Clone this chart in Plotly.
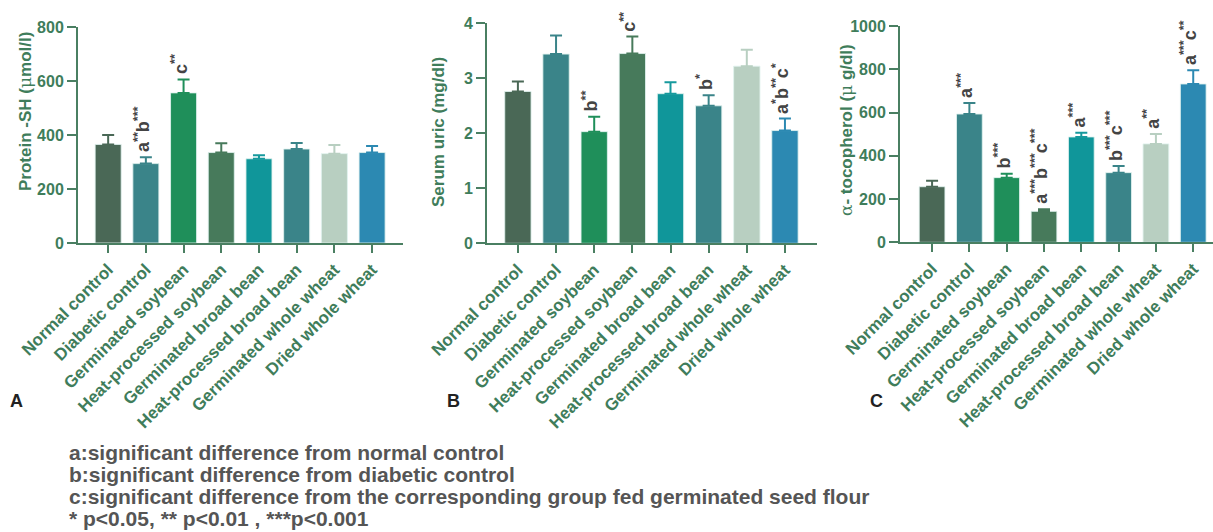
import plotly.graph_objects as go

# Groups shown on every panel
groups = ["Normal control", "Diabetic control", "Germinated soybean",
          "Heat-processed soybean", "Germinated broad bean",
          "Heat-processed broad bean", "Germinated whole wheat",
          "Dried whole wheat"]

# Panel A: protein -SH (umol/l), mean and SE
protein_sh = [365, 294, 556, 335, 312, 348, 331, 335]
protein_sh_err = [35, 24, 50, 34, 13, 22, 32, 24]
protein_sig = ["", "a<sup>**</sup>b<sup>***</sup>", "c<sup>**</sup>", "", "", "", "", ""]

# Panel B: serum uric acid (mg/dl)
uric = [2.76, 3.44, 2.03, 3.45, 2.72, 2.50, 3.22, 2.05]
uric_err = [0.18, 0.34, 0.27, 0.31, 0.21, 0.19, 0.30, 0.22]
uric_sig = ["", "", "b<sup>**</sup>", "c<sup>**</sup>", "", "b<sup>*</sup>", "",
            "a<sup>*</sup>b<sup>**</sup>c<sup>*</sup>"]

# Panel C: alpha-tocopherol (ug/dl)
toco = [257, 593, 299, 143, 487, 322, 455, 732]
toco_err = [27, 51, 18, 10, 20, 31, 46, 63]
toco_sig = ["", "a<sup>***</sup>", "b<sup>***</sup>",
            "a<sup>***</sup>b<sup>***</sup>c<sup>***</sup>", "a<sup>***</sup>",
            "b<sup>***</sup>c<sup>***</sup>", "a<sup>**</sup>", "a<sup>***</sup>c<sup>**</sup>"]

bar_colors = ["#4a6856", "#3a8489", "#1f8f5a", "#477a5b",
              "#10969a", "#3a8489", "#b8cfc1", "#2c89b2"]
err_colors = ["#4a6856", "#3a8489", "#1f8f5a", "#477a5b",
              "#16999d", "#3a8489", "#b8cfc1", "#2c89b2"]

W, H = 1213, 532
GREEN = "#3f7d5b"
AXIS = "#4a7f62"
FONT = "Liberation Sans, Arial, sans-serif"
SERIF = "<span style='font-family:DejaVu Serif;font-weight:normal'>{}</span>"

panels = [
    dict(vals=protein_sh, err=protein_sh_err, sig=protein_sig,
         xdom=(78, 403), ytop=27, ybot=243, yr=[0, 800], dtick=200,
         xr=[-0.8, 7.82],
         title="Protein -SH (" + SERIF.format("μ") + "mol/l)",
         tx=25, ty=112, letter="A", lx=16),
    dict(vals=uric, err=uric_err, sig=uric_sig,
         xdom=(487, 817), ytop=23.3, ybot=243.3, yr=[0, 4], dtick=1,
         xr=[-0.81, 7.84],
         title="Serum uric (mg/dl)", tx=438, ty=132, letter="B", lx=453),
    dict(vals=toco, err=toco_err, sig=toco_sig,
         xdom=(900, 1213), ytop=26, ybot=242.3, yr=[0, 1000], dtick=200,
         xr=[-0.86, 7.53],
         title=SERIF.format("α") + "- tocopherol (" + SERIF.format("μ") + " g/dl)",
         tx=846, ty=130, letter="C", lx=876),
]

fig = go.Figure()
annotations = []
layout = {}

for i, p in enumerate(panels, start=1):
    xa = "x" if i == 1 else f"x{i}"
    ya = "y" if i == 1 else f"y{i}"
    # one trace per group so each error bar takes its bar's colour
    for g, v, e, c, ec in zip(groups, p["vals"], p["err"], bar_colors, err_colors):
        fig.add_trace(go.Bar(
            x=[g], y=[v], xaxis=xa, yaxis=ya, width=0.69, name=g,
            marker=dict(color=c, line=dict(color="rgba(225,242,238,0.85)", width=1)),
            error_y=dict(type="data", array=[e], arrayminus=[0], symmetric=False,
                         color=ec, thickness=2, width=6),
            showlegend=False,
        ))
    xkey = "xaxis" if i == 1 else f"xaxis{i}"
    ykey = "yaxis" if i == 1 else f"yaxis{i}"
    layout[xkey] = dict(
        domain=[p["xdom"][0] / W, min(p["xdom"][1] / W, 1.0)],
        anchor=ya, type="category", range=p["xr"],
        categoryorder="array", categoryarray=groups,
        showline=True, linecolor=AXIS, linewidth=2,
        ticks="outside", ticklen=8, tickwidth=2, tickcolor=AXIS,
        tickangle=-45, showgrid=False, zeroline=False, automargin=False,
        tickfont=dict(family=FONT, size=17, color=GREEN, weight="bold"),
    )
    layout[ykey] = dict(
        domain=[(H - p["ybot"]) / H, (H - p["ytop"]) / H],
        anchor=xa, range=p["yr"], dtick=p["dtick"], tick0=0,
        showline=True, linecolor=AXIS, linewidth=2,
        ticks="outside", ticklen=9, tickwidth=2, tickcolor=AXIS,
        showgrid=False, zeroline=False, automargin=False,
        tickfont=dict(family=FONT, size=16, color=GREEN, weight="bold"),
    )
    # significance letters above the error bars
    for g, v, e, s in zip(groups, p["vals"], p["err"], p["sig"]):
        if s:
            annotations.append(dict(
                x=g, y=v + e, xref=xa, yref=ya, text=s, showarrow=False,
                textangle=-90, xanchor="center", yanchor="bottom",
                xshift=-4, yshift=3,
                font=dict(family=FONT, size=18, color="#444444", weight="bold"),
            ))
    # axis title
    annotations.append(dict(
        x=p["tx"] / W, y=1 - p["ty"] / H, xref="paper", yref="paper",
        text=p["title"], showarrow=False, textangle=-90,
        xanchor="center", yanchor="middle",
        font=dict(family=FONT, size=17, color=GREEN, weight="bold"),
    ))
    # panel letter
    annotations.append(dict(
        x=p["lx"] / W, y=1 - 401 / H, xref="paper", yref="paper",
        text=p["letter"], showarrow=False, xanchor="center", yanchor="middle",
        font=dict(family=FONT, size=18, color="#222222", weight="bold"),
    ))

notes = [
    "a:significant difference from normal control",
    "b:significant difference from diabetic control",
    "c:significant difference from the corresponding group fed germinated seed flour",
    "* p<0.05, ** p<0.01 , ***p<0.001",
]
for k, line in enumerate(notes):
    annotations.append(dict(
        x=67 / W, y=1 - (452 + 22 * k) / H, xref="paper", yref="paper",
        text=line, showarrow=False, xanchor="left", yanchor="middle",
        font=dict(family=FONT, size=21, color="#555555", weight="bold"),
    ))

fig.update_layout(
    width=W, height=H,
    margin=dict(l=0, r=0, t=0, b=0, pad=0, autoexpand=False),
    paper_bgcolor="white", plot_bgcolor="white",
    barmode="overlay",
    annotations=annotations,
    **layout,
)

fig.write_html("out.html")
